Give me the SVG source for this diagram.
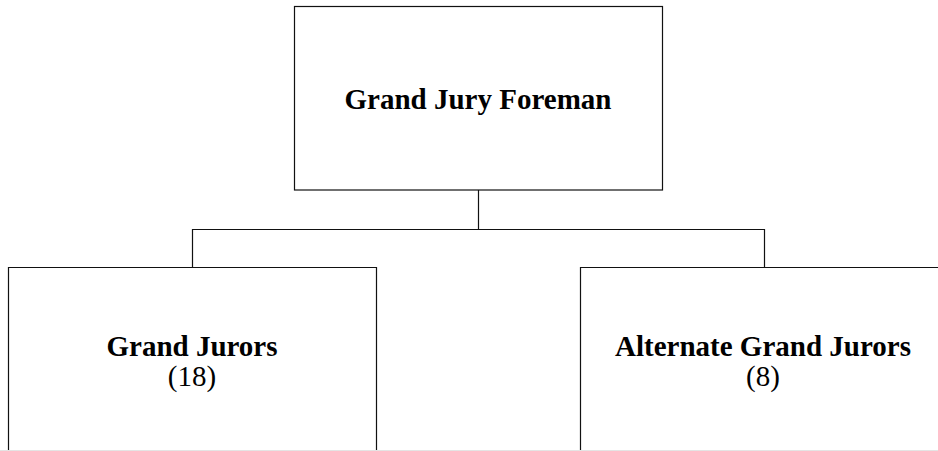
<svg xmlns="http://www.w3.org/2000/svg" width="938" height="451" viewBox="0 0 938 451">
  <style>
    .box { fill: #fff; stroke: #111; stroke-width: 1.2; }
    .link { fill: none; stroke: #111; stroke-width: 1.2; }
    .title { font-family: "Liberation Serif", "Times New Roman", serif; font-weight: bold; font-size: 29px; text-anchor: middle; fill: #000; }
    .count { font-family: "Liberation Serif", "Times New Roman", serif; font-size: 29px; text-anchor: middle; fill: #000; }
  </style>
  <rect x="0" y="0" width="938" height="451" fill="#fff"/>

  <g id="connectors">
    <path class="link" d="M478.5 190 V229.5 M192.5 267 V229.5 H764.5 V267"/>
  </g>

  <g id="foreman">
    <rect class="box" x="294.5" y="6.5" width="368" height="183.5"/>
    <text class="title" x="478" y="109">Grand Jury Foreman</text>
  </g>

  <g id="grand-jurors">
    <path class="box" d="M8.5 451 V267.5 H376.5 V451"/>
    <text class="title" x="192" y="356">Grand Jurors</text>
    <text class="count" x="192" y="386">(18)</text>
  </g>

  <g id="alternate-jurors">
    <path class="box" d="M580.5 451 V267.5 H940"/>
    <text class="title" x="763" y="356">Alternate Grand Jurors</text>
    <text class="count" x="763" y="386">(8)</text>
  </g>

  <line x1="0" y1="450.5" x2="938" y2="450.5" stroke="#e4e4e4" stroke-width="1"/>
</svg>
